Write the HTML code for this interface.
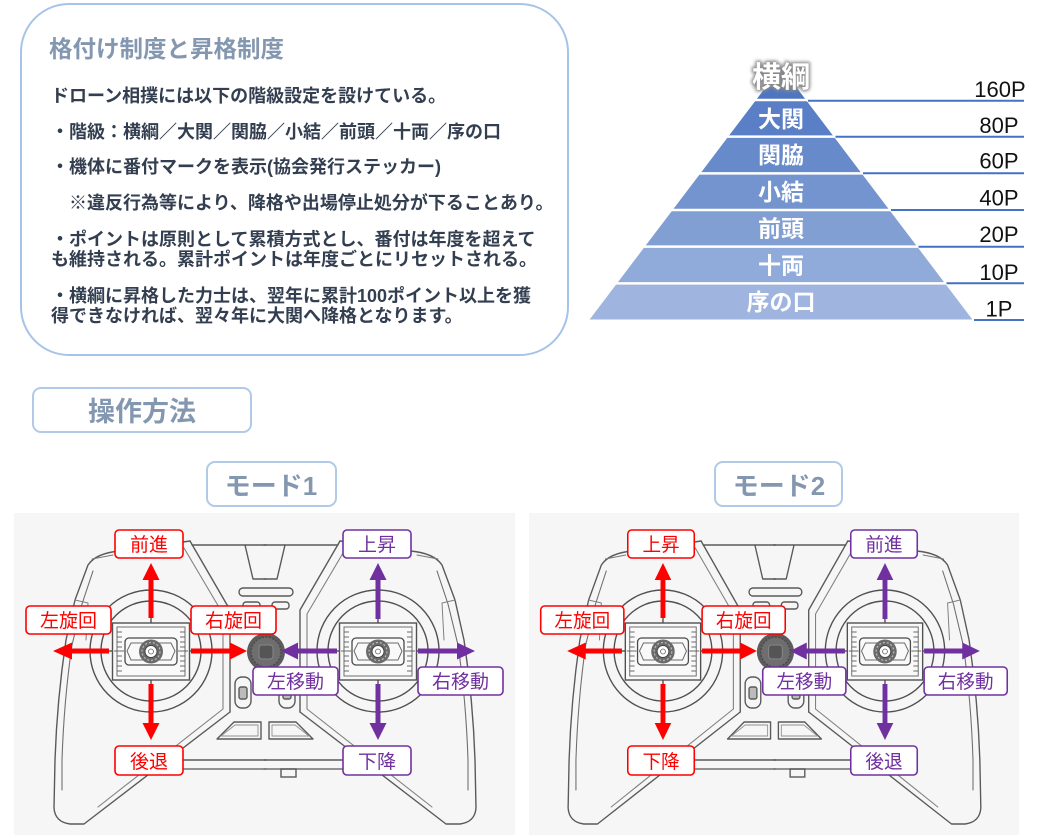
<!DOCTYPE html>
<html lang="ja">
<head>
<meta charset="utf-8">
<style>
  html,body{margin:0;padding:0;background:#fff;}
  svg{display:block;}
  .jp{font-family:"Liberation Sans","Noto Sans CJK JP",sans-serif;}
</style>
</head>
<body>
<svg width="1056" height="838" viewBox="0 0 1056 838" xmlns="http://www.w3.org/2000/svg" xmlns:xlink="http://www.w3.org/1999/xlink">
  <defs>
    <filter id="glow" x="-20%" y="-30%" width="140%" height="160%">
      <feGaussianBlur stdDeviation="1.6"/>
    </filter>

    <g id="half" fill="none" stroke="#5a5a5a" stroke-width="1.4" stroke-linejoin="round" stroke-linecap="round">
      <path d="M190 541 L120 551 Q96 553 88 565 L75 600 L66 640 Q57 700 55 760 L54 808 Q55 822 70 824 L84 824 L230 712"/>
      <path d="M113 555 L92 559" stroke="#777" stroke-width="1"/>
      <path d="M190 541 L230 610 L230 712"/>
      <path d="M184 548 L223 614 L223 709 L98 807" stroke="#808080" stroke-width="1.1"/>
      <path d="M93 571 L82 604 L72 645 Q64 700 62 760 L62 790" stroke="#707070" stroke-width="1.1"/>
      <path d="M192 545 L266 545"/>
      <path d="M245 545 L253 579 L266 579"/>
      <path d="M167 760 L266 760"/>
      <path d="M156 769 L266 769" stroke="#707070"/>
      <path d="M217 739 L234 722 L261 722 L261 739 Z"/>
      <path d="M221 736 L235 725 L258 725 L258 736 Z" stroke="#909090" stroke-width="0.9"/>
      <rect x="235" y="677" width="16" height="31" rx="7"/>
      <rect x="239" y="687" width="8" height="12" rx="2" fill="#bbb"/>
      <path d="M75 600 L88 603 L86 640" stroke="#808080" stroke-width="1"/>
    </g>

    <g id="stick">
      <g fill="none" stroke="#505050" stroke-width="1.4">
        <circle cx="151" cy="651" r="61"/>
        <circle cx="151" cy="651" r="50"/>
        <line x1="101" y1="651" x2="113" y2="651"/>
        <line x1="189" y1="651" x2="201" y2="651"/>
        <line x1="151" y1="601" x2="151" y2="623"/>
        <line x1="151" y1="680" x2="151" y2="701"/>
      </g>
      <rect x="112.5" y="623" width="77" height="57" fill="#f9f9f9" stroke="#505050" stroke-width="1.4"/>
      <rect x="117" y="627" width="68" height="49" fill="none" stroke="#707070" stroke-width="1"/>
      <g stroke="#5a5a5a" stroke-width="0.9">
        <line x1="117" y1="632" x2="122" y2="632"/><line x1="117" y1="637" x2="122" y2="637"/>
        <line x1="117" y1="642" x2="122" y2="642"/><line x1="117" y1="647" x2="122" y2="647"/>
        <line x1="117" y1="656" x2="122" y2="656"/><line x1="117" y1="661" x2="122" y2="661"/>
        <line x1="117" y1="666" x2="122" y2="666"/><line x1="117" y1="671" x2="122" y2="671"/>
        <line x1="180" y1="632" x2="185" y2="632"/><line x1="180" y1="637" x2="185" y2="637"/>
        <line x1="180" y1="642" x2="185" y2="642"/><line x1="180" y1="647" x2="185" y2="647"/>
        <line x1="180" y1="656" x2="185" y2="656"/><line x1="180" y1="661" x2="185" y2="661"/>
        <line x1="180" y1="666" x2="185" y2="666"/><line x1="180" y1="671" x2="185" y2="671"/>
        <line x1="114" y1="651" x2="124" y2="651"/><line x1="178" y1="651" x2="188" y2="651"/>
      </g>
      <rect x="125" y="638" width="52" height="27" rx="4" fill="none" stroke="#4a4a4a" stroke-width="1.3"/>
      <path d="M131 643 L171 643 L175 651 L171 660 L131 660 L127 651 Z" fill="none" stroke="#6a6a6a" stroke-width="1"/>
      <circle cx="151" cy="651.5" r="12" fill="#6a6a6a"/>
      <circle cx="151" cy="651.5" r="9" fill="none" stroke="#bbb" stroke-width="1.2" stroke-dasharray="2 2"/>
      <circle cx="151" cy="651.5" r="6" fill="#fff" stroke="#444" stroke-width="1"/>
      <circle cx="151" cy="651.5" r="2.5" fill="none" stroke="#666" stroke-width="0.8"/>
    </g>

    <g id="ctrl">
      <rect x="14" y="513" width="501" height="322" fill="#f6f6f6"/>
      <use xlink:href="#half"/>
      <use xlink:href="#half" transform="translate(530,0) scale(-1,1)"/>
      <g fill="none" stroke="#5a5a5a" stroke-width="1.4">
        <rect x="239" y="588" width="54" height="8" rx="4"/>
        <rect x="243" y="602" width="17" height="7" rx="3"/>
        <rect x="272" y="602" width="17" height="7" rx="3"/>
        <rect x="281" y="769" width="15" height="8"/>
      </g>
      <use xlink:href="#stick"/>
      <use xlink:href="#stick" transform="translate(227,0)"/>
      <circle cx="266" cy="652" r="19" fill="#5c5c5c"/>
      <circle cx="266" cy="652" r="15" fill="#6e6e6e" stroke="#4a4a4a" stroke-width="1.5" stroke-dasharray="2 1.5"/>
      <rect x="259" y="645" width="14" height="14" rx="3" fill="#555" stroke="#888" stroke-width="1"/>
      <g fill="#ff0000">
        <rect x="148.5" y="579" width="5" height="39"/>
        <polygon points="142.5,580 159.5,580 151,563"/>
        <rect x="148.5" y="684" width="5" height="40"/>
        <polygon points="142.5,723 159.5,723 151,740"/>
        <rect x="71" y="648.5" width="38" height="5"/>
        <polygon points="72,642.5 72,659.5 53,651"/>
        <rect x="191" y="648.5" width="40" height="5"/>
        <polygon points="230,642.5 230,659.5 247,651"/>
      </g>
      <g fill="#7030a0">
        <rect x="375.5" y="579" width="5" height="40"/>
        <polygon points="369.5,580 386.5,580 378,563"/>
        <rect x="375.5" y="684" width="5" height="40"/>
        <polygon points="369.5,723 386.5,723 378,740"/>
        <rect x="297" y="648.5" width="40" height="5"/>
        <polygon points="298,642.5 298,659.5 281,651"/>
        <rect x="418" y="648.5" width="40" height="5"/>
        <polygon points="457,642.5 457,659.5 475,651"/>
      </g>
      <g fill="#fff" stroke="#ff0000" stroke-width="1.6">
        <rect x="115" y="530" width="68" height="28" rx="4"/>
        <rect x="26" y="606" width="85" height="28" rx="4"/>
        <rect x="191" y="606" width="85" height="28" rx="4"/>
        <rect x="115" y="746" width="68" height="29" rx="4"/>
      </g>
      <g fill="#fff" stroke="#7030a0" stroke-width="1.6">
        <rect x="343" y="530" width="68" height="28" rx="4"/>
        <rect x="253" y="667" width="85" height="28" rx="4"/>
        <rect x="418" y="667" width="85" height="28" rx="4"/>
        <rect x="343" y="746" width="68" height="29" rx="4"/>
      </g>
    </g>
  </defs>

  <rect x="21" y="4" width="547" height="351" rx="48" fill="#fff" stroke="#a6c4e8" stroke-width="2"/>
  <text x="49" y="57" class="jp" font-size="23.5" font-weight="700" fill="#8497b0">格付け制度と昇格制度</text>
  <g class="jp" font-size="18" font-weight="700" fill="#333f50">
    <text x="51" y="102">ドローン相撲には以下の階級設定を設けている。</text>
    <text x="51" y="138">・階級：横綱／大関／関脇／小結／前頭／十両／序の口</text>
    <text x="51" y="173">・機体に番付マークを表示(協会発行ステッカー)</text>
    <text x="69" y="209">※違反行為等により、降格や出場停止処分が下ることあり。</text>
    <text x="51" y="245.5">・ポイントは原則として累積方式とし、番付は年度を超えて</text>
    <text x="51" y="265.5">も維持される。累計ポイントは年度ごとにリセットされる。</text>
    <text x="51" y="302">・横綱に昇格した力士は、翌年に累計100ポイント以上を獲</text>
    <text x="51" y="322">得できなければ、翌々年に大関へ降格となります。</text>
  </g>

  <polygon points="781,67 806,100 756,100" fill="#4f75c1"/>
  <polygon points="756,100 806,100 833.8,136.67 728.2,136.67" fill="#5a7fc6"/>
  <polygon points="728.2,136.67 833.8,136.67 861.6,173.33 700.4,173.33" fill="#678acb"/>
  <polygon points="700.4,173.33 861.6,173.33 889.4,210 672.6,210" fill="#7494cf"/>
  <polygon points="672.6,210 889.4,210 917.2,246.67 644.8,246.67" fill="#829fd4"/>
  <polygon points="644.8,246.67 917.2,246.67 945,283.33 617,283.33" fill="#90aad9"/>
  <polygon points="617,283.33 945,283.33 972.4,319.5 589.6,319.5" fill="#9fb5df"/>
  <g stroke="#fff" stroke-width="2.5">
    <line x1="740" y1="100" x2="822" y2="100"/>
    <line x1="720" y1="136.67" x2="842" y2="136.67"/>
    <line x1="690" y1="173.33" x2="872" y2="173.33"/>
    <line x1="660" y1="210" x2="902" y2="210"/>
    <line x1="630" y1="246.67" x2="932" y2="246.67"/>
    <line x1="605" y1="283.33" x2="957" y2="283.33"/>
  </g>
  <g stroke="#4472c4" stroke-width="2">
    <line x1="808" y1="100.7" x2="1024" y2="100.7"/>
    <line x1="835.5" y1="136.7" x2="1024" y2="136.7"/>
    <line x1="863" y1="173.3" x2="1024" y2="173.3"/>
    <line x1="891" y1="210" x2="1024" y2="210"/>
    <line x1="918.5" y1="246.7" x2="1024" y2="246.7"/>
    <line x1="946.5" y1="283.3" x2="1024" y2="283.3"/>
    <line x1="974" y1="320" x2="1024" y2="320"/>
  </g>
  <g font-family="'Liberation Sans',sans-serif" font-size="22" fill="#111" text-anchor="middle">
    <text x="1000" y="97">160P</text>
    <text x="999" y="133">80P</text>
    <text x="999" y="168.5">60P</text>
    <text x="999" y="205.5">40P</text>
    <text x="999" y="242">20P</text>
    <text x="999" y="280">10P</text>
    <text x="999" y="316.5">1P</text>
  </g>
  <g class="jp" font-size="23" font-weight="700" fill="#fff" text-anchor="middle">
    <text x="781" y="127">大関</text>
    <text x="781" y="163">関脇</text>
    <text x="781" y="200">小結</text>
    <text x="781" y="236.5">前頭</text>
    <text x="781" y="273.5">十両</text>
    <text x="781" y="310">序の口</text>
  </g>
  <text x="781" y="87" class="jp" font-size="29" font-weight="700" text-anchor="middle" fill="#8a8a8a" stroke="#8a8a8a" stroke-width="3" filter="url(#glow)">横綱</text>
  <text x="781" y="87" class="jp" font-size="29" font-weight="700" text-anchor="middle" fill="#fff">横綱</text>

  <rect x="33" y="388" width="218" height="44" rx="8" fill="#fff" stroke="#b0cae8" stroke-width="2"/>
  <text x="142" y="421" class="jp" font-size="27" font-weight="700" fill="#8497b0" text-anchor="middle">操作方法</text>
  <rect x="207" y="462" width="129" height="44" rx="8" fill="#fff" stroke="#b0cae8" stroke-width="2"/>
  <text x="271" y="495" class="jp" font-size="26" font-weight="700" fill="#8497b0" text-anchor="middle">モード1</text>
  <rect x="715" y="462" width="127" height="44" rx="8" fill="#fff" stroke="#b0cae8" stroke-width="2"/>
  <text x="779" y="495" class="jp" font-size="26" font-weight="700" fill="#8497b0" text-anchor="middle">モード2</text>

  <use xlink:href="#ctrl"/>
  <g class="jp" font-size="19" text-anchor="middle">
    <g fill="#ff0000">
      <text x="149" y="551">前進</text>
      <text x="68.5" y="627">左旋回</text>
      <text x="233.5" y="627">右旋回</text>
      <text x="149" y="768">後退</text>
    </g>
    <g fill="#7030a0">
      <text x="377" y="551">上昇</text>
      <text x="295.5" y="688">左移動</text>
      <text x="460.5" y="688">右移動</text>
      <text x="377" y="768">下降</text>
    </g>
  </g>

  <g transform="translate(515.3,0) scale(0.978,1)">
    <use xlink:href="#ctrl"/>
    <g class="jp" font-size="19" text-anchor="middle">
      <g fill="#ff0000">
        <text x="149" y="551">上昇</text>
        <text x="68.5" y="627">左旋回</text>
        <text x="233.5" y="627">右旋回</text>
        <text x="149" y="768">下降</text>
      </g>
      <g fill="#7030a0">
        <text x="377" y="551">前進</text>
        <text x="295.5" y="688">左移動</text>
        <text x="460.5" y="688">右移動</text>
        <text x="377" y="768">後退</text>
      </g>
    </g>
  </g>
</svg>
</body>
</html>
